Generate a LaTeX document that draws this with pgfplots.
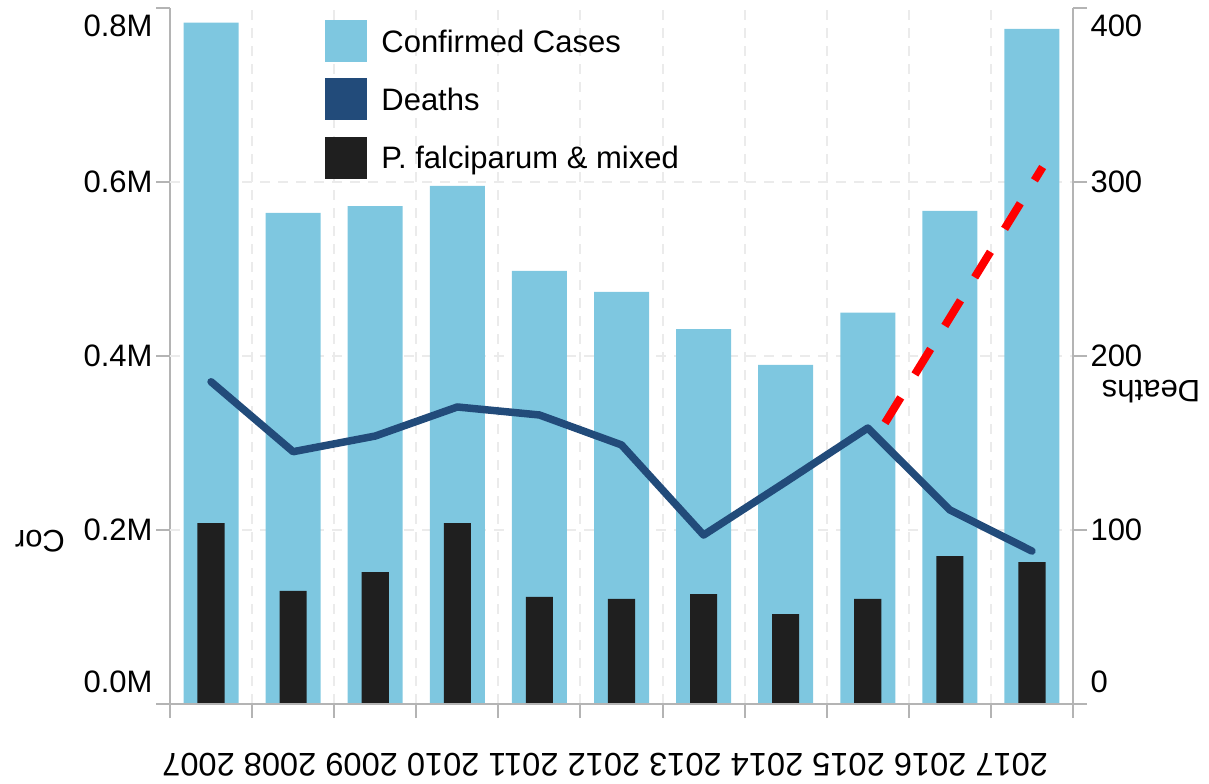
\documentclass[border=0pt]{standalone}
\usepackage{fontspec}
\setmainfont{Liberation Sans}
\usepackage{pgfplots}
\pgfplotsset{compat=1.18}
\definecolor{cconf}{HTML}{7EC7E0}
\definecolor{cdeath}{HTML}{224B7A}
\definecolor{cfalc}{HTML}{1F1F1F}
\definecolor{axgray}{HTML}{B4B4B4}
\definecolor{grgray}{HTML}{EBEBEB}
\newcommand\tfont{\fontsize{31bp}{37bp}\selectfont}

\pgfplotsset{
  base/.style={
    width=903bp, height=696bp, scale only axis,
    xmin=-0.5, xmax=10.5,
    axis line style={draw=axgray, line width=2bp},
    tick style={draw=axgray, line width=2bp},
    major tick length=14bp, tick align=outside,
    tick label style={font=\tfont, text=black},
  },
}

\begin{document}
\begin{tikzpicture}
\useasboundingbox (-170bp,-80bp) rectangle (1039bp,704bp);
\begin{axis}[base,
  ymin=0, ymax=0.8,
  axis x line*=bottom, axis y line*=left,
  xtick={-0.5,0.5,...,10.5}, xticklabels={},
  xmajorgrids,
  ytick={0,0.2,0.4,0.6,0.8},
  yticklabels={\raisebox{22.5bp}[\height][\depth]{0.0M},0.2M,0.4M,0.6M,\raisebox{-17.5bp}[\height][\depth]{0.8M}},
  extra y ticks={0.2,0.4,0.6}, extra y tick labels={},
  extra y tick style={grid=major, major tick length=0pt},
  grid style={draw=grgray, line width=2bp, dash pattern=on 10bp off 8bp},
  ylabel={Cor},
  every axis y label/.style={at={(rel axis cs:-0.144,0.234)}, anchor=center, rotate=180, font=\tfont},
  xlabel={2017 2016 2015 2014 2013 2012 2011 2010 2009 2008 2007},
  every axis x label/.style={at={(rel axis cs:0.4817,0)}, anchor=center, yshift=-61bp, rotate=180, font=\fontsize{32.6bp}{38bp}\selectfont},
  legend style={at={(rel axis cs:0.17165,0.98276)}, anchor=north west, draw=none, fill=none,
    inner sep=0pt, outer sep=0pt, row sep=17bp, column sep=15bp, font=\tfont,
    nodes={inner sep=0pt}},
  legend cell align=left,
]
\addlegendimage{legend image code/.code={\fill[cconf] (0bp,-19.5bp) rectangle (41bp,21.5bp);}}
\addlegendentry{Confirmed Cases}
\addlegendimage{legend image code/.code={\fill[cdeath] (0bp,-19.5bp) rectangle (41bp,21.5bp);}}
\addlegendentry{Deaths}
\addlegendimage{legend image code/.code={\fill[cfalc] (0bp,-19.5bp) rectangle (41bp,21.5bp);}}
\addlegendentry{P. falciparum \& mixed}

% confirmed cases (millions)
\addplot[ybar, bar width=0.67, bar shift=0pt, fill=cconf, draw=none, forget plot] coordinates {
  (0,0.7831) (1,0.5644) (2,0.5724) (3,0.5954) (4,0.4977) (5,0.4736)
  (6,0.4310) (7,0.3897) (8,0.4498) (9,0.5667) (10,0.7759)};
% P. falciparum & mixed (millions)
\addplot[ybar, bar width=0.33, bar shift=0pt, fill=cfalc, draw=none, forget plot] coordinates {
  (0,0.2080) (1,0.1299) (2,0.1517) (3,0.2080) (4,0.1230) (5,0.1207)
  (6,0.1264) (7,0.1034) (8,0.1207) (9,0.1701) (10,0.1632)};
\draw[axgray, line width=2bp] (rel axis cs:-0.155,0) -- (rel axis cs:1.151,0);
\end{axis}

\begin{axis}[base,
  ymin=0, ymax=400,
  axis y line*=right, axis x line=none,
  ytick={0,100,200,300,400},
  yticklabels={\raisebox{22.5bp}[\height][\depth]{0},100,200,300,\raisebox{-17.5bp}[\height][\depth]{400}},
  ylabel={Deaths},
  every axis y label/.style={at={(rel axis cs:1.0864,0.4485)}, anchor=center, rotate=180, font=\tfont},
]
\addplot[red, line width=8bp, dash pattern=on 30bp off 27bp] coordinates {(8.21,161.5) (10.13,308.6)};
\addplot[cdeath, line width=7.5bp, line cap=round, line join=round] coordinates {
  (0,185.2) (1,145.0) (2,154.0) (3,170.7) (4,166.1) (5,148.9)
  (6,97.1) (7,127.6) (8,158.6) (9,111.5) (10,87.9)};
\end{axis}
\end{tikzpicture}
\end{document}
